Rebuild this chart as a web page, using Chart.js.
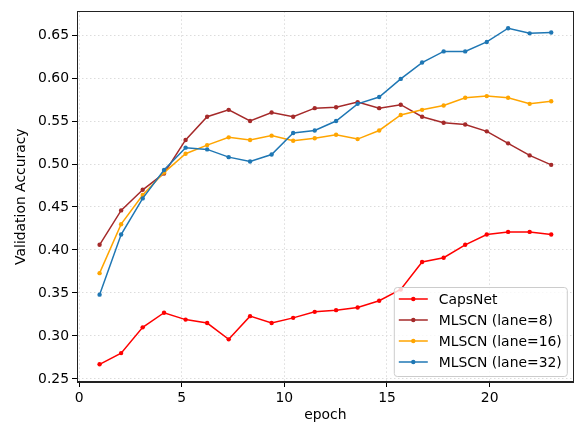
<!DOCTYPE html>
<html>
<head>
<meta charset="utf-8">
<script src="https://cdn.jsdelivr.net/npm/chart.js@4/dist/chart.umd.min.js"></script>
<style>
  html, body { margin: 0; padding: 0; background: #fff; }
  #wrap { width: 576px; height: 424px; }
</style>
</head>
<body>
<div id="wrap"><canvas id="accChart" width="576" height="424"></canvas></div>
<script>
// epochs (x positions of the points)
const epochs = [1.00, 2.05, 3.10, 4.14, 5.19, 6.24, 7.29, 8.33, 9.38, 10.43, 11.48,
                12.52, 13.57, 14.62, 15.67, 16.71, 17.76, 18.81, 19.86, 20.90, 21.95, 23.00];

const capsNet = [0.267, 0.280, 0.310, 0.327, 0.319, 0.315, 0.296, 0.323, 0.315, 0.321, 0.328,
                 0.330, 0.333, 0.341, 0.354, 0.386, 0.391, 0.406, 0.418, 0.421, 0.421, 0.418];
const lane8   = [0.406, 0.446, 0.470, 0.489, 0.528, 0.555, 0.563, 0.550, 0.560, 0.555, 0.565,
                 0.566, 0.572, 0.565, 0.569, 0.555, 0.548, 0.546, 0.538, 0.524, 0.510, 0.499];
const lane16  = [0.373, 0.430, 0.464, 0.490, 0.512, 0.522, 0.531, 0.528, 0.533, 0.527, 0.530,
                 0.534, 0.529, 0.539, 0.557, 0.563, 0.568, 0.577, 0.579, 0.577, 0.570, 0.573];
const lane32  = [0.348, 0.418, 0.460, 0.493, 0.519, 0.517, 0.508, 0.503, 0.511, 0.536, 0.539,
                 0.550, 0.570, 0.578, 0.599, 0.618, 0.631, 0.631, 0.642, 0.658, 0.652, 0.653];

const xTicks = [0, 5, 10, 15, 20];
const yTicks = [0.25, 0.30, 0.35, 0.40, 0.45, 0.50, 0.55, 0.60, 0.65];

const FONT = 'DejaVu Sans';
const FS = 13.9;

function pts(ys) { return ys.map((y, i) => ({ x: epochs[i], y })); }

function series(label, ys, color, order) {
  return {
    label, data: pts(ys), borderColor: color, backgroundColor: color,
    borderWidth: 1.5, pointRadius: 2.2, pointHoverRadius: 2.2, pointBorderWidth: 0,
    tension: 0, order
  };
}

// spines on all four sides
const frame = {
  id: 'frame',
  afterDatasetsDraw(chart) {
    const a = chart.chartArea, c = chart.ctx;
    c.save();
    c.strokeStyle = '#222';
    c.lineWidth = 1;
    c.strokeRect(Math.round(a.left) + 0.5, Math.round(a.top) + 0.5,
                 Math.round(a.right - a.left) - 1, Math.round(a.bottom - a.top));
    c.restore();
  }
};

// matplotlib style legend, lower right inside the axes
const boxLegend = {
  id: 'boxLegend',
  afterDraw(chart) {
    const a = chart.chartArea, c = chart.ctx;
    const w = 173, h = 89;
    const x0 = a.right - 7 - w, y0 = a.bottom - 6 - h;
    c.save();
    c.beginPath();
    c.roundRect(x0 + 0.5, y0 + 0.5, w, h, 3);
    c.fillStyle = 'rgba(255,255,255,0.8)';
    c.fill();
    c.strokeStyle = '#cccccc';
    c.lineWidth = 1;
    c.stroke();
    c.font = `${FS}px "${FONT}"`;
    c.textBaseline = 'middle';
    chart.data.datasets.forEach((ds, i) => {
      const cy = y0 + 12 + i * 21;
      c.strokeStyle = ds.borderColor;
      c.lineWidth = 1.5;
      c.beginPath();
      c.moveTo(x0 + 5, cy);
      c.lineTo(x0 + 34, cy);
      c.stroke();
      c.fillStyle = ds.borderColor;
      c.beginPath();
      c.arc(x0 + 19.5, cy, 2.2, 0, Math.PI * 2);
      c.fill();
      c.fillStyle = '#000';
      c.fillText(ds.label, x0 + 45, cy + 1);
    });
    c.restore();
  }
};

const gridOpts = { color: '#dcdcdc', tickLength: 5, tickColor: '#000', tickBorderDash: [] };
const borderOpts = { display: true, color: '#222', dash: [1.5, 2.5] };

new Chart(document.getElementById('accChart'), {
  type: 'line',
  data: {
    datasets: [
      series('CapsNet', capsNet, '#ff0000', 3),
      series('MLSCN (lane=8)', lane8, '#a52a2a', 2),
      series('MLSCN (lane=16)', lane16, '#ffa500', 1),
      series('MLSCN (lane=32)', lane32, '#1f77b4', 0)
    ]
  },
  options: {
    responsive: false,
    animation: false,
    layout: { padding: { top: 9, right: 1, left: 0, bottom: 0 } },
    plugins: { legend: { display: false }, tooltip: { enabled: false } },
    scales: {
      x: {
        type: 'linear', min: -0.1, max: 24.1,
        afterBuildTicks: s => { s.ticks = xTicks.map(v => ({ value: v })); },
        afterFit: s => { s.height = 42; },
        grid: gridOpts,
        border: borderOpts,
        ticks: { color: '#000', padding: 3, font: { family: FONT, size: FS }, maxRotation: 0 },
        title: { display: true, text: 'epoch', color: '#000', padding: { top: 0, bottom: 0 },
                 font: { family: FONT, size: FS } }
      },
      y: {
        type: 'linear', min: 0.2464, max: 0.6776,
        afterBuildTicks: s => { s.ticks = yTicks.map(v => ({ value: v })); },
        afterFit: s => { s.width = 77; },
        grid: gridOpts,
        border: borderOpts,
        ticks: { color: '#000', padding: 3, font: { family: FONT, size: FS },
                 callback: v => v.toFixed(2) },
        title: { display: true, text: 'Validation Accuracy', color: '#000', padding: { top: 13, bottom: 0 },
                 font: { family: FONT, size: FS } }
      }
    }
  },
  plugins: [frame, boxLegend]
});
</script>
</body>
</html>
